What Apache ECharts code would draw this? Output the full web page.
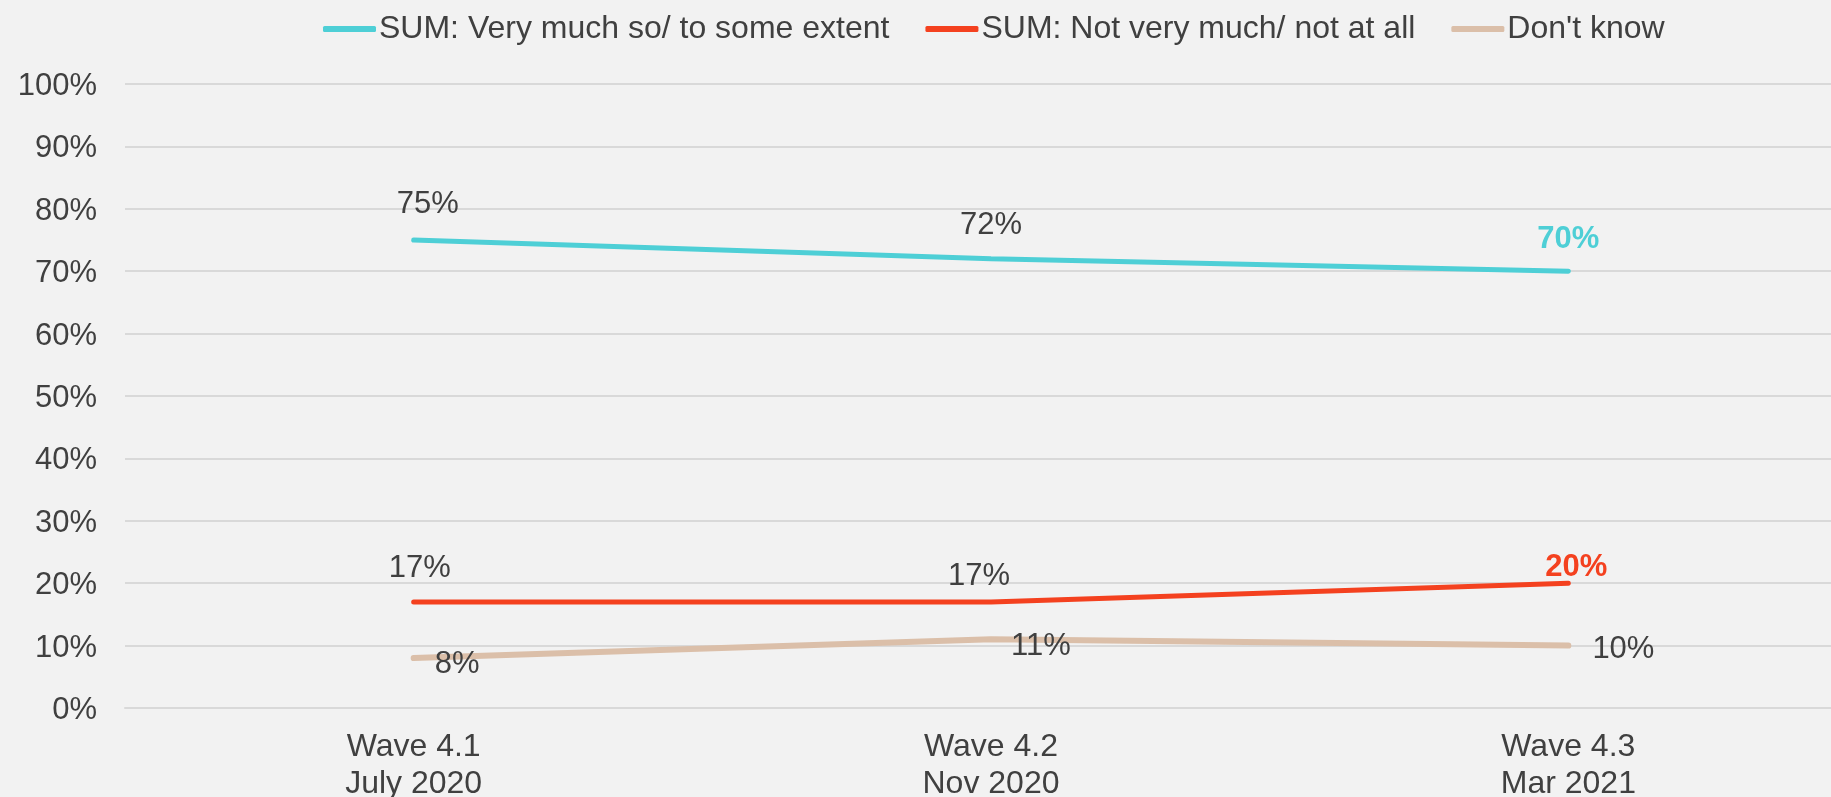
<!DOCTYPE html>
<html>
<head>
<meta charset="utf-8">
<script src="https://cdn.jsdelivr.net/npm/echarts@6/dist/echarts.min.js"></script>
<style>
html,body{margin:0;padding:0;background:#F2F2F2;}
#chart{width:1831px;height:797px;}
</style>
</head>
<body>
<div id="chart"></div>
<script>
var categories = ['Wave 4.1\nJuly 2020', 'Wave 4.2\nNov 2020', 'Wave 4.3\nMar 2021'];
var seriesNames = ['SUM: Very much so/ to some extent', 'SUM: Not very much/ not at all', "Don't know"];
var verySome = [75, 72, 70];
var notMuch = [17, 17, 20];
var dontKnow = [8, 11, 10];
var yTicks = [0, 10, 20, 30, 40, 50, 60, 70, 80, 90, 100];

var FONT = '"Liberation Sans", Arial, sans-serif';
var TXT = '#404040';
var colors = ['#4ECFD6', '#F4411F', '#DBBFA9'];

// label placement (style only)
var cyanLabel = [{d: 20, o: [14, 0]}, {d: 18, o: [0, 0]}, {d: 16, o: [0, 0], bold: true}];
var redLabel = [{d: 18, o: [6, 0]}, {d: 10, o: [-12, 0]}, {d: 0, o: [8, 0], bold: true}];
var tanLabel = [{d: 21, o: [0, 6]}, {d: 20, o: [0, 7]}, {d: 24, o: [0, 4]}];

function buildData(values, lab, pos, color) {
  return values.map(function (v, i) {
    var l = lab[i];
    return {
      value: v,
      label: {
        show: true,
        position: pos,
        distance: l.d,
        offset: l.o,
        fontSize: 31,
        fontFamily: FONT,
        fontWeight: l.bold ? 'bold' : 'normal',
        color: l.bold ? color : TXT,
        formatter: '{c}%'
      }
    };
  });
}

function lineSeries(idx, values, lab, pos, width) {
  return {
    name: seriesNames[idx], type: 'line', data: buildData(values, lab, pos, colors[idx]),
    showSymbol: true, symbol: 'circle', symbolSize: 0.1,
    itemStyle: {color: colors[idx]},
    color: colors[idx],
    lineStyle: {width: width, color: colors[idx], cap: 'round'},
    emphasis: {disabled: true}
  };
}

var chart = echarts.init(document.getElementById('chart'));
chart.setOption({
  backgroundColor: '#F2F2F2',
  animation: false,
  legend: {
    left: 318,
    top: 8,
    itemWidth: 53,
    itemHeight: 6,
    itemGap: 36,
    icon: 'roundRect',
    textStyle: {fontSize: 32, fontFamily: FONT, color: TXT, padding: [0, 0, 0, -2]},
    data: seriesNames
  },
  grid: {left: 125, right: -26, top: 84, bottom: 89, containLabel: false, outerBoundsMode: 'none'},
  xAxis: {
    type: 'category',
    data: categories,
    boundaryGap: true,
    axisLine: {show: true, lineStyle: {color: '#D9D9D9', width: 2}},
    axisTick: {show: false},
    axisLabel: {fontSize: 32, fontFamily: FONT, color: TXT, lineHeight: 37, margin: 21}
  },
  yAxis: {
    type: 'value',
    min: yTicks[0],
    max: yTicks[yTicks.length - 1],
    interval: yTicks[1] - yTicks[0],
    axisLine: {show: false},
    axisTick: {show: false},
    splitLine: {lineStyle: {color: '#D9D9D9', width: 2}},
    axisLabel: {
      fontSize: 31, fontFamily: FONT, color: TXT, margin: 28,
      formatter: '{a|{value}%}',
      rich: {a: {fontSize: 31, fontFamily: FONT, color: TXT, padding: [5, 0, 0, 0]}}
    }
  },
  series: [
    lineSeries(0, verySome, cyanLabel, 'top', 5),
    lineSeries(1, notMuch, redLabel, 'top', 5),
    lineSeries(2, dontKnow, tanLabel, 'right', 6)
  ]
});
</script>
</body>
</html>
